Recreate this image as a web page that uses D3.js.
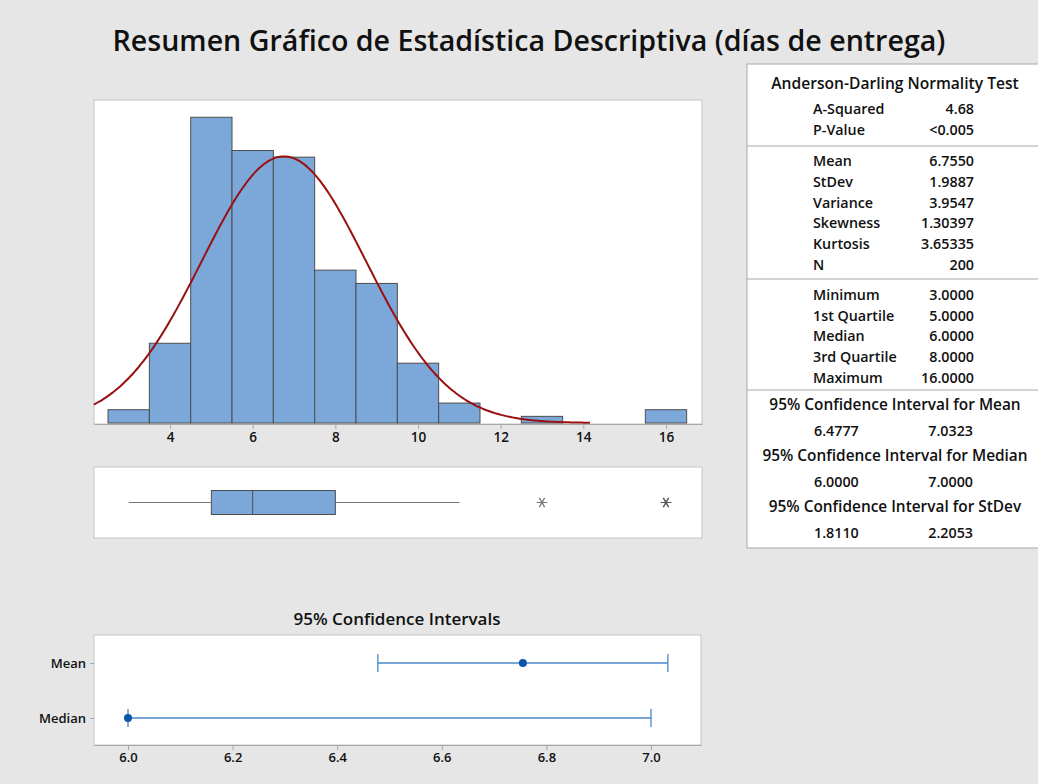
<!DOCTYPE html>
<html>
<head>
<meta charset="utf-8">
<script src="https://cdn.jsdelivr.net/npm/d3@7"></script>
<style>
  body { margin: 0; background: #e6e6e6; }
  svg { display: block; font-family: "Open Sans", "Noto Sans", sans-serif; }
</style>
</head>
<body>
<div id="chart-area"></div>
<script>
// Histogram bins (centre of each bin, width 1) and counts, N = 200
const binMids = [3, 4, 5, 6, 7, 8, 9, 10, 11, 12, 13, 14, 15, 16]
const binCounts = [2, 12, 46, 41, 40, 23, 21, 9, 3, 0, 1, 0, 0, 2]
const histTicks = [4, 6, 8, 10, 12, 14, 16]

const MEAN = 6.755
const STDEV = 1.9887
const N = 200

// Boxplot: whisker low, Q1, median, Q3, whisker high, then outliers
const boxValues = [3, 5, 6, 8, 11]
const outliers = [13, 16, 16]

// Confidence intervals
const ciLabels = ["Mean", "Median"]
const ciCenter = [6.755, 6.0]
const ciLow = [6.4777, 6.0]
const ciHigh = [7.0323, 7.0]
const ciTicks = [6.0, 6.2, 6.4, 6.6, 6.8, 7.0]

// Summary table
const adLabels = ["A-Squared", "P-Value"]
const adValues = ["4.68", "<0.005"]
const momentLabels = ["Mean", "StDev", "Variance", "Skewness", "Kurtosis", "N"]
const momentValues = ["6.7550", "1.9887", "3.9547", "1.30397", "3.65335", "200"]
const quantLabels = ["Minimum", "1st Quartile", "Median", "3rd Quartile", "Maximum"]
const quantValues = ["3.0000", "5.0000", "6.0000", "8.0000", "16.0000"]
const ciTableTitles = ["95% Confidence Interval for Mean", "95% Confidence Interval for Median", "95% Confidence Interval for StDev"]
const ciTableLow = ["6.4777", "6.0000", "1.8110"]
const ciTableHigh = ["7.0323", "7.0000", "2.2053"]

const W = 1038, H = 784
const FRAME = "#c4c4c4"
const BAR = "#7ba7d9"

const svg = d3.select("#chart-area").append("svg")
  .attr("width", W)
  .attr("height", H)

svg.append("rect").attr("width", W).attr("height", H).attr("fill", "#e6e6e6")

// Title
svg.append("text")
  .attr("x", 529)
  .attr("y", 51)
  .attr("text-anchor", "middle")
  .attr("font-size", "28.6px")
  .attr("font-weight", 600)
  .attr("fill", "#111")
  .text("Resumen Gráfico de Estadística Descriptiva (días de entrega)")

// ---------- Histogram ----------
const PL = 94, PR = 702, PT = 100, PB = 424

const x = d3.scaleLinear()
  .domain([(PL - 4.7) / 41.33, (PR - 4.7) / 41.33])
  .range([PL, PR])

const y = d3.scaleLinear()
  .domain([0, 48.6])
  .range([PB - 1, PT])

svg.append("rect")
  .attr("x", PL).attr("y", PT)
  .attr("width", PR - PL).attr("height", PB - PT)
  .attr("fill", "white").attr("stroke", FRAME)

const bins = binMids.map((m, i) => ({ x0: m - 0.5, x1: m + 0.5, n: binCounts[i] }))

svg.append("g").selectAll("rect")
  .data(bins)
  .enter().append("rect")
    .attr("x", d => x(d.x0))
    .attr("y", d => y(d.n))
    .attr("width", d => x(d.x1) - x(d.x0))
    .attr("height", d => y(0) - y(d.n))
    .attr("fill", BAR)
    .attr("stroke", "#4d4d4d")
    .attr("stroke-width", 1)

// fitted normal curve
const normPts = d3.range(x.domain()[0], 14.2, 0.05)
  .map(v => [v, N * Math.exp(-0.5 * ((v - MEAN) / STDEV) ** 2) / (STDEV * Math.sqrt(2 * Math.PI))])

svg.append("path")
  .datum(normPts)
  .attr("fill", "none")
  .attr("stroke", "#991111")
  .attr("stroke-width", 2)
  .attr("d", d3.line().x(d => x(d[0])).y(d => y(d[1])).curve(d3.curveBasis))

const xAxisG = svg.append("g")
  .attr("transform", `translate(0, ${PB})`)
  .call(d3.axisBottom(x).tickValues(histTicks).tickSize(5).tickSizeOuter(0).tickPadding(3))
xAxisG.select(".domain").attr("stroke", "#a8a8a8")
xAxisG.selectAll(".tick line").attr("stroke", "#a8a8a8")
xAxisG.selectAll("text")
  .attr("font-size", "13.5px").attr("font-weight", 600).attr("fill", "#111")
  .attr("font-family", "Open Sans")

// ---------- Boxplot ----------
const BT = 467, BB = 538, BY = 502.5
svg.append("rect")
  .attr("x", PL).attr("y", BT)
  .attr("width", PR - PL).attr("height", BB - BT)
  .attr("fill", "white").attr("stroke", FRAME)

const box = svg.append("g")
box.append("line")
  .attr("x1", x(boxValues[0])).attr("x2", x(boxValues[1]))
  .attr("y1", BY).attr("y2", BY).attr("stroke", "#777")
box.append("line")
  .attr("x1", x(boxValues[3])).attr("x2", x(boxValues[4]))
  .attr("y1", BY).attr("y2", BY).attr("stroke", "#777")
box.append("rect")
  .attr("x", x(boxValues[1])).attr("y", BY - 12)
  .attr("width", x(boxValues[3]) - x(boxValues[1])).attr("height", 24)
  .attr("fill", BAR).attr("stroke", "#4d4d4d")
box.append("line")
  .attr("x1", x(boxValues[2])).attr("x2", x(boxValues[2]))
  .attr("y1", BY - 12).attr("y2", BY + 12).attr("stroke", "#4d4d4d")

box.selectAll(".outlier")
  .data(outliers)
  .enter().append("path")
    .attr("class", "outlier")
    .attr("transform", d => `translate(${x(d)}, ${BY}) rotate(90)`)
    .attr("d", d3.symbol().type(d3.symbolAsterisk).size(80))
    .attr("fill", "none")
    .attr("stroke", "#555")
    .attr("stroke-opacity", 0.8)
    .attr("stroke-width", 1.2)

// ---------- Confidence intervals ----------
const CL = 94, CR = 701, CT = 635, CB = 745

svg.append("text")
  .attr("x", 397).attr("y", 625)
  .attr("text-anchor", "middle")
  .attr("font-size", "17px").attr("font-weight", 600).attr("fill", "#111")
  .text("95% Confidence Intervals")

const cx = d3.scaleLinear()
  .domain([6.0 - 34 / 523, 7.0 + 50 / 523])
  .range([CL, CR])

const cy = d3.scalePoint()
  .domain(ciLabels)
  .range([663, 718])

svg.append("rect")
  .attr("x", CL).attr("y", CT)
  .attr("width", CR - CL).attr("height", CB - CT)
  .attr("fill", "white").attr("stroke", FRAME)

const cxAxis = svg.append("g")
  .attr("transform", `translate(0, ${CB})`)
  .call(d3.axisBottom(cx).tickValues(ciTicks).tickFormat(d3.format(".1f")).tickSize(5).tickSizeOuter(0).tickPadding(3))
const cyAxis = svg.append("g")
  .attr("transform", `translate(${CL}, 0)`)
  .call(d3.axisLeft(cy).tickSize(4).tickSizeOuter(0).tickPadding(4))
cyAxis.select(".domain").remove()
;[cxAxis, cyAxis].forEach(a => {
  a.select(".domain").attr("stroke", "#a8a8a8")
  a.selectAll(".tick line").attr("stroke", "#a8a8a8")
  a.selectAll("text")
    .attr("font-size", "13px").attr("font-weight", 600).attr("fill", "#111")
    .attr("font-family", "Open Sans")
})

const ciData = ciLabels.map((k, i) => ({ k, c: ciCenter[i], lo: ciLow[i], hi: ciHigh[i] }))
const ciG = svg.append("g").selectAll("g")
  .data(ciData)
  .enter().append("g")
    .attr("transform", d => `translate(0, ${cy(d.k)})`)
ciG.append("line")
  .attr("x1", d => cx(d.lo)).attr("x2", d => cx(d.hi))
  .attr("stroke", "#4a86c8").attr("stroke-width", 1.5)
ciG.append("line")
  .attr("x1", d => cx(d.lo)).attr("x2", d => cx(d.lo))
  .attr("y1", -9).attr("y2", 9)
  .attr("stroke", "#4a86c8").attr("stroke-width", 1.3)
ciG.append("line")
  .attr("x1", d => cx(d.hi)).attr("x2", d => cx(d.hi))
  .attr("y1", -9).attr("y2", 9)
  .attr("stroke", "#4a86c8").attr("stroke-width", 1.3)
ciG.append("circle")
  .attr("cx", d => cx(d.c))
  .attr("r", 4)
  .attr("fill", "#0b55a8")

// ---------- Summary table ----------
const TL = 747, TT = 64, TB = 548
svg.append("rect")
  .attr("x", TL).attr("y", TT)
  .attr("width", 320).attr("height", TB - TT)
  .attr("fill", "white").attr("stroke", "#a8a8a8")

const tbl = svg.append("g")
  .attr("font-size", "14.3px").attr("font-weight", 600).attr("fill", "#111")

const LABEL_X = 813, VALUE_X = 974, MID_X = 895

function addText(xp, yp, txt, anchor, size) {
  const t = tbl.append("text")
    .attr("x", xp).attr("y", yp)
    .attr("dy", "0.35em")
    .attr("text-anchor", anchor)
    .text(txt)
  if (size) t.attr("font-size", size)
}

function addRows(labels, values, y0, step) {
  labels.forEach((l, i) => {
    addText(LABEL_X, y0 + i * step, l, "start")
    addText(VALUE_X, y0 + i * step, values[i], "end")
  })
}

addText(MID_X, 84, "Anderson-Darling Normality Test", "middle", "15.6px")
addRows(adLabels, adValues, 109, 20.8)
addRows(momentLabels, momentValues, 161, 20.8)
addRows(quantLabels, quantValues, 295, 20.7)

;[146, 279, 390].forEach(yy => {
  svg.append("line")
    .attr("x1", TL).attr("x2", W)
    .attr("y1", yy).attr("y2", yy)
    .attr("stroke", "#a8a8a8")
})

ciTableTitles.forEach((t, i) => {
  const y0 = 404.5 + i * 51.2
  addText(MID_X, y0, t, "middle", "15.4px")
  addText(814, y0 + 26, ciTableLow[i], "start")
  addText(973, y0 + 26, ciTableHigh[i], "end")
})
</script>
</body>
</html>
